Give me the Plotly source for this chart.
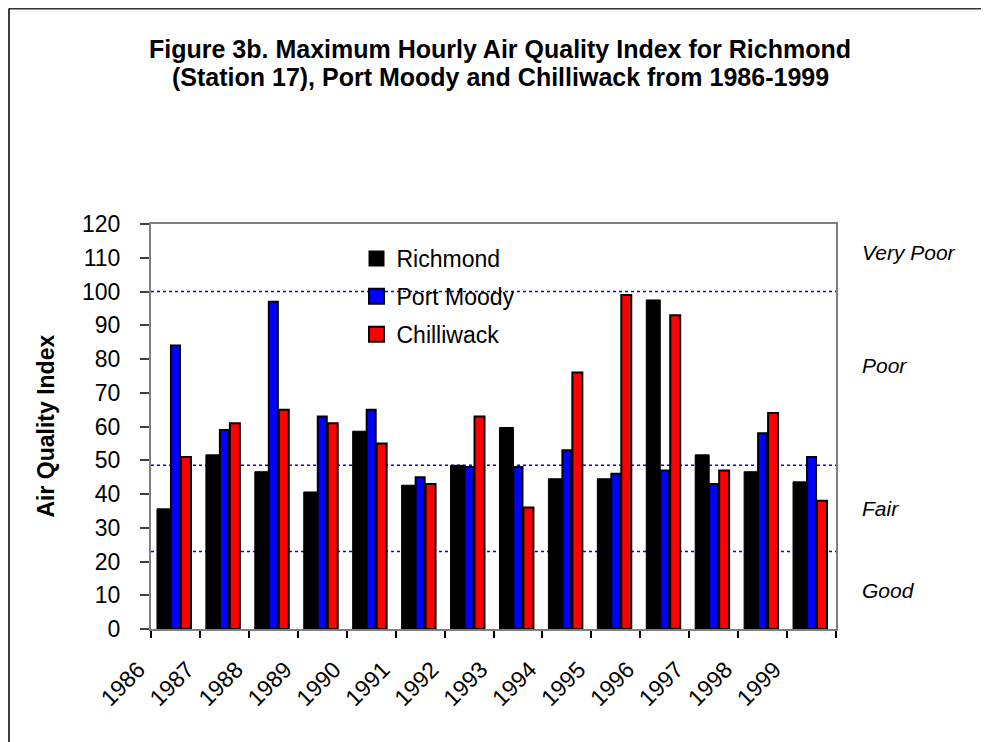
import plotly.graph_objects as go

YEARS = ["1986", "1987", "1988", "1989", "1990", "1991", "1992",
         "1993", "1994", "1995", "1996", "1997", "1998", "1999"]
RICHMOND = [35.6, 51.6, 46.6, 40.6, 58.6, 42.6, 48.5, 59.7, 44.5, 44.5, 97.5, 51.6, 46.6, 43.6]
PORT_MOODY = [84, 59, 97, 63, 65, 45, 48, 48, 53, 46, 47, 43, 58, 51]
CHILLIWACK = [51, 61, 65, 61, 55, 43, 63, 36, 76, 99, 93, 47, 64, 38]
BAND_LINES = [100, 48.5, 23]
BAND_LABELS = ["Very Poor", "Poor", "Fair", "Good"]
TITLE_LINES = ["Figure 3b. Maximum Hourly Air Quality Index for Richmond",
               "(Station 17), Port Moody and Chilliwack from 1986-1999"]

FONT = "Liberation Sans, Arial, sans-serif"

fig = go.Figure()

# bars: (name, values, colour, offset, width, line width)
series = [
    ("Richmond", RICHMOND, "#000000", -0.378, 0.286, 1),
    ("Port Moody", PORT_MOODY, "#0000FF", -0.092, 0.184, 2),
    ("Chilliwack", CHILLIWACK, "#FF0000", 0.112, 0.204, 2),
]
for name, vals, color, off, w, lw in series:
    fig.add_trace(go.Bar(
        x=YEARS, y=vals, name=name, offset=off, width=w,
        marker={"color": color, "line": {"color": "#000000", "width": lw}},
        showlegend=False,
    ))

# legend entries drawn as bigger squares
for i, (name, vals, color, off, w, lw) in enumerate(series):
    fig.add_trace(go.Scatter(
        x=[None], y=[None], mode="markers", name=name, legendgroup=name,
        marker={"symbol": "square", "size": 18 if i == 0 else 15, "color": color,
                "line": {"color": "#000000", "width": 0 if i == 0 else 2}},
    ))

for v in BAND_LINES:
    fig.add_shape(type="line", xref="paper", yref="y", x0=0, x1=1, y0=v, y1=v,
                  line={"color": "#0000FF", "width": 1.5, "dash": "dot"}, layer="below")

label_pos = [111.7, 78, 35.6, 11.3]
for txt, yv in zip(BAND_LABELS, label_pos):
    fig.add_annotation(text=f"<i>{txt}</i>", xref="paper", yref="y", x=1.035, y=yv,
                       xanchor="left", yanchor="middle", showarrow=False,
                       font={"size": 21, "color": "#000000"})

fig.add_annotation(text="<b>Air Quality Index</b>", xref="paper", yref="paper",
                   x=-0.1547, y=0.5, textangle=-90, showarrow=False,
                   xanchor="center", yanchor="middle", font={"size": 23, "color": "#000000"})

# title, one annotation per line to keep the tight line spacing
for txt, yv in zip(TITLE_LINES, [1.432, 1.363]):
    fig.add_annotation(text=f"<b>{txt}</b>", xref="paper", yref="paper", x=0.5095, y=yv,
                       xanchor="center", yanchor="middle", showarrow=False,
                       font={"size": 25, "color": "#000000"})

# outer frame (top and left edge only)
fig.add_shape(type="line", xref="paper", yref="paper", x0=-0.2073, x1=1.25, y0=1.532, y1=1.532,
              line={"color": "#333333", "width": 2})
fig.add_shape(type="line", xref="paper", yref="paper", x0=-0.2073, x1=-0.2073, y0=1.532, y1=-0.3,
              line={"color": "#000000", "width": 1.5})

fig.update_layout(
    width=981, height=734,
    paper_bgcolor="white", plot_bgcolor="white",
    font={"family": FONT, "color": "#000000", "size": 23},
    margin={"l": 143, "r": 153, "t": 216, "b": 113},
    showlegend=True,
    legend={"x": 0.300, "y": 0.968, "xanchor": "left", "yanchor": "top",
            "bgcolor": "rgba(0,0,0,0)", "tracegroupgap": 5,
            "font": {"size": 23}},
)

fig.update_xaxes(
    type="category", tickson="boundaries", ticks="outside", ticklen=7,
    tickcolor="#000000", tickwidth=1.5, tickangle=-45,
    ticklabelshift=-37, ticklabelstandoff=16,
    showline=True, linecolor="#808080", linewidth=2, mirror=True,
    showgrid=False, tickfont={"size": 23},
)
fig.update_yaxes(
    range=[0, 120], dtick=10, ticks="outside", ticklen=9,
    tickcolor="#404040", tickwidth=1.5, ticklabelstandoff=15,
    showline=True, linecolor="#808080", linewidth=2, mirror=True,
    showgrid=False, zeroline=False, tickfont={"size": 23},
)

fig.write_html("out.html")
